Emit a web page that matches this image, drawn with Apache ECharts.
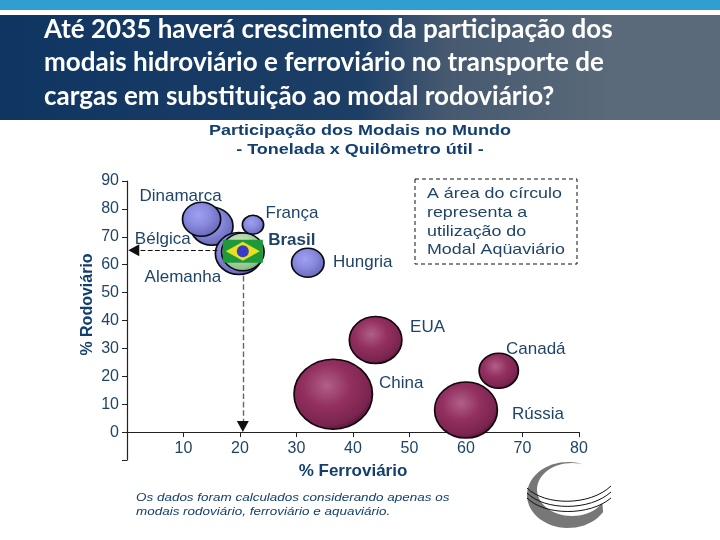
<!DOCTYPE html>
<html>
<head>
<meta charset="utf-8">
<style>html,body{margin:0;padding:0;background:#fff}#c{width:720px;height:540px}</style>
<script src="https://cdn.jsdelivr.net/npm/echarts@6/dist/echarts.min.js"></script>
</head>
<body>
<div id="c"></div>
<script>
var blueCountries = ['Bélgica', 'Dinamarca', 'França', 'Alemanha', 'Hungria', 'Brasil'];
var blueRail = [15, 13.2, 22.3, 19.8, 32, 20.5];
var blueRoad = [73.8, 76.3, 74.3, 64, 60.7, 64.6];
var blueWater = [14.4, 11.6, 3.6, 17.6, 8.4, 14.4];

var redCountries = ['EUA', 'China', 'Canadá', 'Rússia'];
var redRail = [44, 36.5, 65.8, 60];
var redRoad = [33, 13.6, 22, 7.9];
var redWater = [22, 49, 12.3, 31.4];

var xTicks = [0, 80, 10];
var yTicks = [-10, 90, 10];

var labelOffsets = {
  'Dinamarca': [-21, -23], 'França': [39, -11], 'Bélgica': [-49, 13], 'Brasil': [49, -12],
  'Alemanha': [-56, 24], 'Hungria': [55, 0], 'EUA': [52, -13], 'China': [68, -11],
  'Canadá': [37, -21], 'Rússia': [72, 4]
};

var navy = '#1f4468';
var sans = '"Liberation Sans", Arial, sans-serif';

function ball(c0, c1, c2, c3) {
  return { type: 'radial', x: 0.42, y: 0.38, r: 0.65, colorStops: [
    { offset: 0, color: c0 }, { offset: 0.45, color: c1 }, { offset: 0.85, color: c2 }, { offset: 1, color: c3 }
  ] };
}
function size(v) { var h = 10 * Math.sqrt(v[2]); return [h * 1.12, h]; }
function points(names, xs, ys, ws) {
  return names.map(function (n, i) {
    var o = labelOffsets[n];
    var d = { name: n, value: [xs[i], ys[i], ws[i]], label: { offset: o } };
    if (n === 'Brasil') {
      d.itemStyle = { color: ball('#d8ecc8', '#b8d8a8', '#8fbf8f', '#5f8f6f') };
      d.label = { offset: o, fontWeight: 'bold' };
    }
    return d;
  });
}
var bubbleLabel = {
  show: true, position: 'inside', align: 'center', verticalAlign: 'middle',
  formatter: '{b}', color: navy, fontFamily: sans, fontSize: 17
};

function crescent() {
  var pts = [], t, d = Math.PI / 180;
  for (t = -65; t >= -330; t -= 6) pts.push([568 + 41 * Math.cos(t * d), 495 + 33 * Math.sin(t * d)]);
  for (t = -330; t <= -65; t += 6) pts.push([572 + 35 * Math.cos(t * d), 489.5 + 26.5 * Math.sin(t * d)]);
  return pts;
}
function stripe(y0, y1) {
  return { type: 'bezierCurve', silent: true, z: 6,
    shape: { x1: 527, y1: y0, cpx1: 545, cpy1: y0 + 18, cpx2: 590, cpy2: y0 + 18, x2: 611, y2: y1 },
    style: { fill: 'none', stroke: '#111', lineWidth: 1 } };
}
function txt(s, x, y, font, fill, align, sx) {
  return { type: 'text', silent: true, z: 5, x: x, y: y, scaleX: sx || 1,
    style: { text: s, fill: fill, font: font, align: align || 'left', verticalAlign: 'middle' } };
}
var headFont = 'bold 26px Lato, sans-serif';
var titleFont = 'bold 15px "Liberation Sans", Arial, sans-serif';
var boxFont = '15px "Liberation Sans", Arial, sans-serif';
var noteFont = 'italic 11.5px "Liberation Sans", Arial, sans-serif';

var option = {
  animation: false,
  backgroundColor: '#fff',
  grid: { left: 127, right: 141, top: 181, bottom: 80 },
  xAxis: {
    type: 'value', min: xTicks[0], max: xTicks[1], interval: xTicks[2],
    splitLine: { show: false },
    axisLine: { show: true, onZero: true, lineStyle: { color: '#222', width: 1.2 } },
    axisTick: { show: true, length: 5, lineStyle: { color: '#222' } },
    axisLabel: { color: navy, fontFamily: sans, fontSize: 16, margin: -19,
      formatter: function (v) { return v === 0 ? '' : v; } },
    name: '% Ferroviário', nameLocation: 'middle', nameGap: 3,
    nameTextStyle: { color: '#123f70', fontFamily: sans, fontSize: 17, fontWeight: 'bold' }
  },
  yAxis: {
    type: 'value', min: yTicks[0], max: yTicks[1], interval: yTicks[2],
    splitLine: { show: false },
    axisLine: { show: true, lineStyle: { color: '#222', width: 1.2 } },
    axisTick: { show: true, length: 5, lineStyle: { color: '#222' } },
    axisLabel: { color: navy, fontFamily: sans, fontSize: 16, margin: 8,
      formatter: function (v) { return v < 0 ? '' : v; } },
    name: '% Rodoviário', nameLocation: 'middle', nameGap: 31, nameRotate: 90, nameMoveOverlap: false,
    nameTextStyle: { color: '#123f70', fontFamily: sans, fontSize: 16, fontWeight: 'bold', padding: [0, 0, 0, 32] }
  },
  series: [
    {
      type: 'scatter', name: 'Europa e Brasil', z: 3,
      data: points(blueCountries, blueRail, blueRoad, blueWater),
      symbolSize: size,
      itemStyle: { color: ball('#a0a0f0', '#8a8ae0', '#7070c0', '#50508c'), borderColor: '#0a0a14', borderWidth: 1.6, opacity: 1 },
      label: bubbleLabel,
      emphasis: { disabled: true },
      markLine: {
        silent: true, symbol: 'none', animation: false,
        label: { show: false },
        data: [
          [{ coord: [16, 65.2], lineStyle: { color: '#111', type: 'dashed', width: 1.2 } }, { coord: [1, 65.2] }],
          [{ coord: [20.5, 56], lineStyle: { color: '#666', type: 'dashed', width: 1.4 } }, { coord: [20.5, 2] }]
        ]
      },
      markPoint: {
        silent: true, animation: false, symbol: 'triangle', symbolSize: [12, 11],
        itemStyle: { color: '#111' }, label: { show: false },
        data: [
          { coord: [20.5, 2], symbolRotate: 180 },
          { coord: [1.2, 65.2], symbolRotate: 90 }
        ]
      }
    },
    {
      type: 'scatter', name: 'Grandes países', z: 3,
      data: points(redCountries, redRail, redRoad, redWater),
      symbolSize: size,
      itemStyle: { color: ball('#b0608a', '#93305f', '#7a2450', '#4c1232'), borderColor: '#14060c', borderWidth: 1.6, opacity: 1 },
      label: bubbleLabel,
      emphasis: { disabled: true }
    },
    {
      type: 'custom', name: 'Bandeira', z: 4, silent: true,
      data: [[blueRail[5], blueRoad[5]]],
      encode: { x: 0, y: 1 },
      renderItem: function (params, api) {
        var p = api.coord([api.value(0), api.value(1)]);
        var x = p[0], y = p[1];
        return { type: 'group', children: [
          { type: 'rect', shape: { x: x - 20, y: y - 12, width: 40, height: 23 }, style: { fill: '#1f9a3a' } },
          { type: 'polygon', shape: { points: [[x - 17, y - 0.5], [x, y - 10], [x + 17, y - 0.5], [x, y + 9]] }, style: { fill: '#e8e020' } },
          { type: 'circle', shape: { cx: x, cy: y - 0.5, r: 6 }, style: { fill: '#3a3ac8' } }
        ] };
      }
    }
  ],
  graphic: { elements: [
    { type: 'rect', silent: true, z: 0, shape: { x: 0, y: 0, width: 720, height: 10 }, style: { fill: '#2e9fcf' } },
    { type: 'rect', silent: true, z: 0, shape: { x: 0, y: 15, width: 720, height: 105 },
      style: { fill: { type: 'linear', x: 0, y: 0, x2: 1, y2: 0, colorStops: [
        { offset: 0, color: '#0f3562' }, { offset: 0.5, color: '#1d3f66' },
        { offset: 0.62, color: '#46596f' }, { offset: 0.85, color: '#5a6a7a' }, { offset: 1, color: '#5a6a7a' }
      ] } } },
    txt('Até 2035 haverá crescimento da participação dos', 44, 30, headFont, '#fff'),
    txt('modais hidroviário e ferroviário no transporte de', 44, 63, headFont, '#fff'),
    txt('cargas em substituição ao modal rodoviário?', 44, 97, headFont, '#fff'),

    txt('Participação dos Modais no Mundo', 360, 131, titleFont, '#123f70', 'center', 1.2),
    txt('- Tonelada x Quilômetro útil -', 360, 150, titleFont, '#123f70', 'center', 1.2),

    { type: 'rect', silent: true, z: 5, shape: { x: 415, y: 179, width: 162, height: 85 }, style: { fill: 'none', stroke: '#111', lineWidth: 1, lineDash: [4, 3] } },
    txt('A área do círculo', 427, 194, boxFont, navy, 'left', 1.19),
    txt('representa a', 427, 213, boxFont, navy, 'left', 1.19),
    txt('utilização do', 427, 232, boxFont, navy, 'left', 1.19),
    txt('Modal Aqüaviário', 427, 250, boxFont, navy, 'left', 1.19),

    txt('Os dados foram calculados considerando apenas os', 136, 498, noteFont, '#123f70', 'left', 1.17),
    txt('modais rodoviário, ferroviário e aquaviário.', 136, 512, noteFont, '#123f70', 'left', 1.17),

    { type: 'polygon', silent: true, z: 5, shape: { points: crescent() }, style: { fill: '#777' } },
    stripe(488, 486), stripe(493, 492), stripe(498, 498)
  ] }
};
echarts.init(document.getElementById('c'), null, { renderer: 'canvas' }).setOption(option);
</script>
</body>
</html>
